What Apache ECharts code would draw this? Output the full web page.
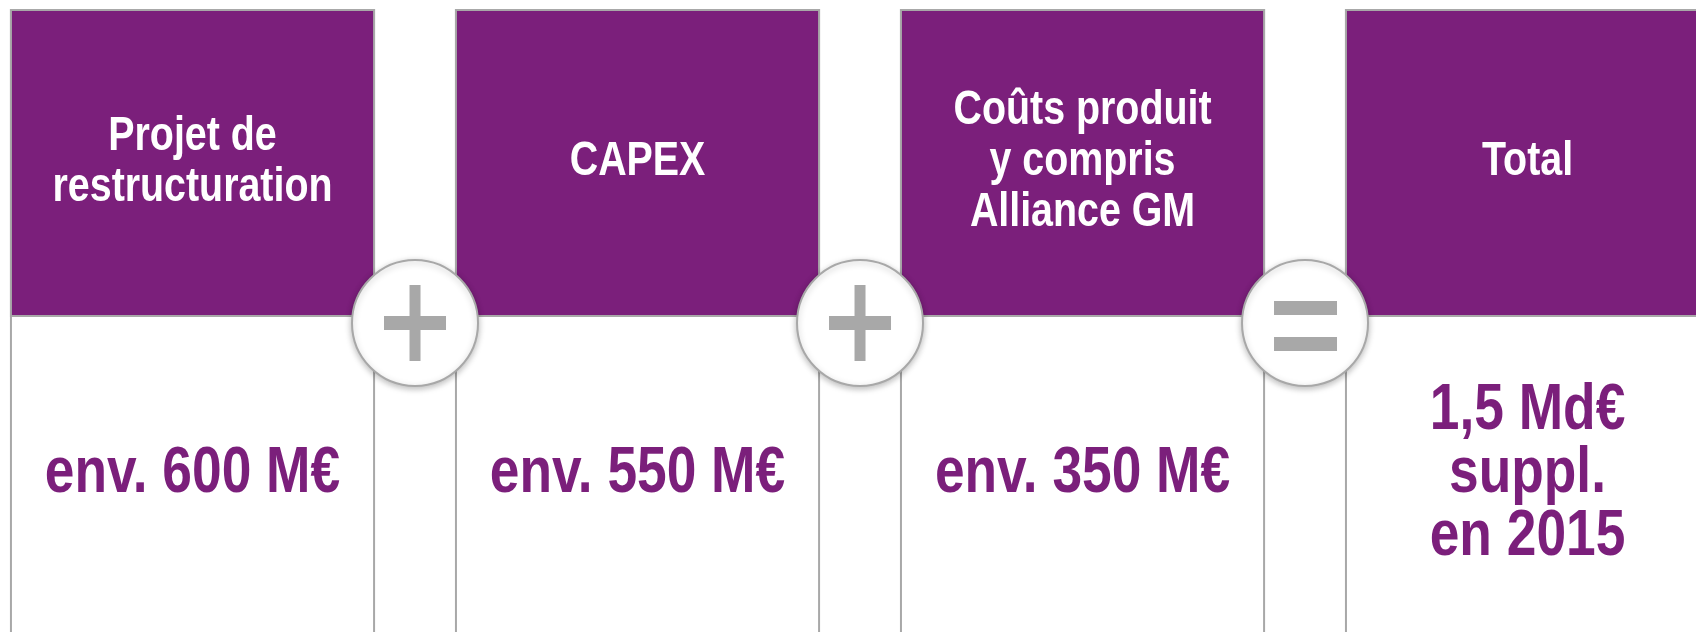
<!DOCTYPE html>
<html>
<head>
<meta charset="utf-8">
<style>
  html, body { margin: 0; padding: 0; background: #fff; }
  #chart { width: 1696px; height: 632px; }
</style>
<script src="https://cdn.jsdelivr.net/npm/echarts@6/dist/echarts.min.js"></script>
</head>
<body>
<div id="chart"></div>
<script>
  // titres des blocs
  var categories = ['Projet de\nrestructuration', 'CAPEX', 'Coûts produit\ny compris\nAlliance GM', 'Total'];
  // montants (M€) et textes affichés
  var values = [600, 550, 350, 1500];
  var valueLabels = ['env. 600 M€', 'env. 550 M€', 'env. 350 M€', '1,5 Md€\nsuppl.\nen 2015'];
  // opérateurs entre les blocs
  var operators = ['+', '+', '='];

  var PURPLE = '#7b1f7b';
  var GREY = '#a8a8a8';
  var FONT = 'bold 48px "Liberation Sans", Arial, sans-serif';
  var FONT_VAL = 'bold 65px "Liberation Sans", Arial, sans-serif';
  var NARROW = 0.82;

  var myChart = echarts.init(document.getElementById('chart'));

  function renderPanel(params, api) {
    var i = api.value(0);
    var c = api.coord([i, 1]);
    var band = api.size([1, 0])[0];
    var w = band * 0.816;
    var top = c[1];
    var headH = 306;
    var x0 = c[0] - w / 2;
    return {
      type: 'group',
      children: [
        {
          type: 'rect',
          shape: {x: x0, y: top, width: w, height: 700},
          style: {fill: '#fff', stroke: GREY, lineWidth: 2}
        },
        {
          type: 'rect',
          shape: {x: x0, y: top, width: w, height: headH},
          style: {fill: PURPLE, stroke: GREY, lineWidth: 2}
        },
        {
          type: 'text',
          x: c[0], y: top + headH / 2 - 1, scaleX: NARROW,
          style: {
            text: categories[i], fill: '#fff', font: FONT, lineHeight: 51,
            align: 'center', verticalAlign: 'middle'
          }
        },
        {
          type: 'text',
          x: c[0], y: top + headH + 158, scaleX: NARROW,
          style: {
            text: valueLabels[i], fill: PURPLE, font: FONT_VAL, lineHeight: 63,
            align: 'center', verticalAlign: 'middle'
          }
        }
      ]
    };
  }

  function renderOperator(params, api) {
    var i = api.value(0);
    var c = api.coord([i + 0.5, 1]);
    var cx = c[0];
    var cy = c[1] + 313;
    var children = [
      {
        type: 'circle',
        shape: {cx: cx, cy: cy, r: 63},
        style: {
          fill: '#fff', stroke: GREY, lineWidth: 2,
          shadowBlur: 6, shadowColor: 'rgba(0,0,0,0.25)', shadowOffsetY: 2
        }
      }
    ];
    if (operators[i] === '+') {
      children.push(
        {type: 'rect', shape: {x: cx - 5.5, y: cy - 38, width: 11, height: 76}, style: {fill: GREY}},
        {type: 'rect', shape: {x: cx - 31, y: cy - 7, width: 62, height: 14}, style: {fill: GREY}}
      );
    } else {
      children.push(
        {type: 'rect', shape: {x: cx - 31, y: cy - 22, width: 63, height: 14}, style: {fill: GREY}},
        {type: 'rect', shape: {x: cx - 31, y: cy + 14, width: 63, height: 14}, style: {fill: GREY}}
      );
    }
    return {type: 'group', children: children};
  }

  myChart.setOption({
    animation: false,
    grid: {left: 0, right: 0, top: 10, bottom: 0},
    xAxis: {
      // 445 px par bloc, premier bloc centré à 192 px
      type: 'value', min: -0.4326, max: 3.3786, show: false
    },
    yAxis: {
      type: 'value', min: 0, max: 1, show: false
    },
    series: [
      {
        type: 'custom',
        renderItem: renderPanel,
        data: values.map(function (v, i) { return [i, v]; }),
        clip: false,
        z: 2
      },
      {
        type: 'custom',
        renderItem: renderOperator,
        data: operators.map(function (o, i) { return [i]; }),
        clip: false,
        z: 5
      }
    ]
  });
</script>
</body>
</html>
